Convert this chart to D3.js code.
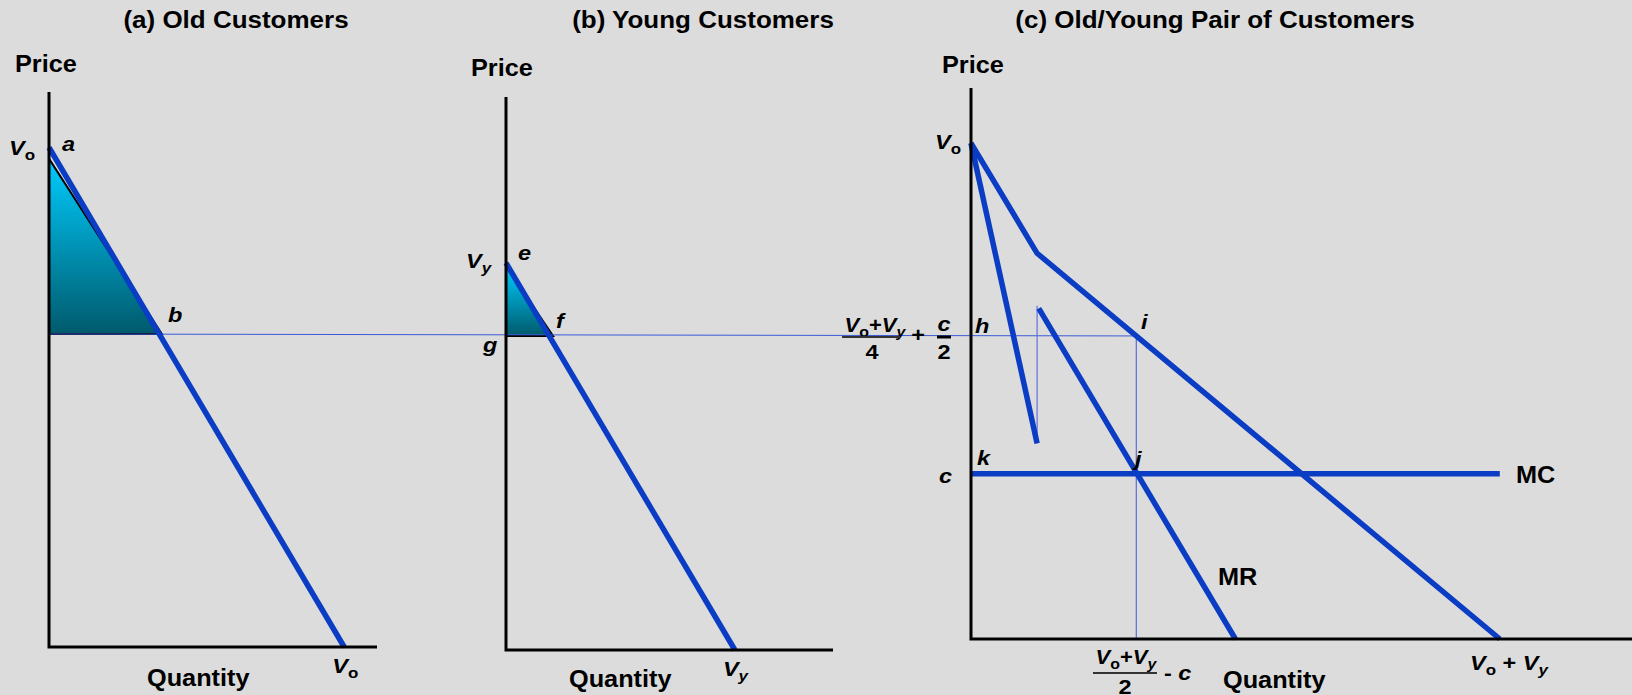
<!DOCTYPE html>
<html>
<head>
<meta charset="utf-8">
<script src="https://cdn.jsdelivr.net/npm/d3@7"></script>
<style>
  body { margin: 0; background: #dcdcdc; }
  text { font-family: "Liberation Sans", Arial, sans-serif; font-weight: bold; fill: #000; }
</style>
</head>
<body>
<div id="chart"></div>
<script>
// ---- data (quantity, price) in each panel's own units ----
const panelTitles = ["(a) Old Customers", "(b) Young Customers", "(c) Old/Young Pair of Customers"];

const oldDemand = [[0, 90], [90, 0]];
const oldSurplus = [[0, 88], [0, 56.4], [34.4, 56.4]];

const youngDemand = [[0, 70], [70, 0]];
const youngSurplus = [[0, 69.4], [0, 56.8], [14.4, 56.8]];

const pairDemand = [[0, 90], [20, 70], [160, 0]];
const mrOld = [[0, 90], [20, 35.5]];
const mrJump = [[20, 35.5], [20, 60.5]];
const mrPair = [[20.5, 60], [80, 0]];
const marginalCost = [[0, 30], [160, 30]];
const optimum = [50, 55];          // point i / j quantity and price
const priceA = [0, 56.4];          // start of the price line in panel (a)

// ---- layout ----
const W = 1632, H = 695;
const blue = "#0a3cc4";
const thin = "#3a5ad8";

const svg = d3.select("#chart").append("svg")
    .attr("width", W).attr("height", H);

svg.append("rect").attr("width", W).attr("height", H).attr("fill", "#dcdcdc");

const defs = svg.append("defs");
const grad = defs.append("linearGradient")
    .attr("id", "surplus").attr("x1", 0).attr("y1", 0).attr("x2", 0).attr("y2", 1);
grad.append("stop").attr("offset", "0%").attr("stop-color", "#00ccff");
grad.append("stop").attr("offset", "100%").attr("stop-color", "#005a6c");

// scales for each panel
const xa = d3.scaleLinear().domain([0, 100]).range([49, 377]);
const ya = d3.scaleLinear().domain([0, 100]).range([647, 92]);
const xb = d3.scaleLinear().domain([0, 100]).range([506, 833]);
const yb = d3.scaleLinear().domain([0, 100]).range([650, 97]);
const xc = d3.scaleLinear().domain([0, 200]).range([971, 1632]);
const yc = d3.scaleLinear().domain([0, 100]).range([639, 88]);

const lineFor = (x, y) => d3.line().x(d => x(d[0])).y(d => y(d[1]));
const la = lineFor(xa, ya), lb = lineFor(xb, yb), lc = lineFor(xc, yc);

// text helper: parts = [[text, kind]] kinds: "" plain, "i" italic, "sub" subscript, "subi" italic subscript
function label(x, y, parts, opts = {}) {
    const size = opts.size || 21;
    const sx = opts.sx || 1.12;
    const g = svg.append("g").attr("transform", `translate(${x},${y}) scale(${sx},1)`);
    const t = g.append("text")
        .attr("font-size", size)
        .attr("text-anchor", opts.anchor || "start");
    let shifted = false;
    parts.forEach(([txt, kind]) => {
        const isSub = kind === "sub" || kind === "subi";
        const ts = t.append("tspan").text(txt);
        if (isSub) {
            ts.attr("font-size", size * 0.72);
            if (!shifted) ts.attr("dy", 5);
            shifted = true;
        } else if (shifted) {
            ts.attr("dy", -5);
            shifted = false;
        }
        if (kind === "i" || kind === "subi") ts.attr("font-style", "italic");
    });
    return t;
}
const Vo = [["V", "i"], ["o", "sub"]];
const Vy = [["V", "i"], ["y", "subi"]];

// ---- surplus triangles ----
svg.append("path").datum(oldSurplus)
    .attr("d", d => la(d) + "Z")
    .attr("fill", "url(#surplus)").attr("stroke", "#000").attr("stroke-width", 2);
svg.append("path").datum(youngSurplus)
    .attr("d", d => lb(d) + "Z")
    .attr("fill", "url(#surplus)").attr("stroke", "#000").attr("stroke-width", 2);

// ---- thin guide lines ----
const priceLine = [[xa(priceA[0]), ya(priceA[1])], [xc(optimum[0]), yc(optimum[1])]];
svg.append("path").datum(priceLine)
    .attr("d", d3.line()).attr("stroke", thin).attr("stroke-width", 1).attr("fill", "none");
svg.append("path").datum([optimum, [optimum[0], 0]])
    .attr("d", lc).attr("stroke", thin).attr("stroke-width", 1).attr("fill", "none");
svg.append("path").datum(mrJump)
    .attr("d", lc).attr("stroke", "#6070e0").attr("stroke-width", 1.2).attr("fill", "none");

// ---- thick blue curves ----
const thick = [[oldDemand, la], [youngDemand, lb], [pairDemand, lc], [mrOld, lc], [mrPair, lc], [marginalCost, lc]];
thick.forEach(([d, gen]) => {
    svg.append("path").datum(d)
        .attr("d", gen)
        .attr("fill", "none")
        .attr("stroke", blue)
        .attr("stroke-width", 5.5)
        .attr("stroke-linejoin", "miter");
});

// ---- axes ----
[[xa, ya], [xb, yb], [xc, yc]].forEach(([x, y]) => {
    svg.append("path")
        .datum([[x.domain()[0], y.domain()[1]], [x.domain()[0], 0], [x.domain()[1], 0]])
        .attr("d", lineFor(x, y))
        .attr("fill", "none").attr("stroke", "#000").attr("stroke-width", 3);
});

// ---- titles & axis names ----
[236, 703, 1215].forEach((cx, i) => label(cx, 28, [[panelTitles[i], ""]], { size: 23, anchor: "middle", sx: 1.13 }));
[[15, 72], [471, 76], [942, 73]].forEach(([x, y]) => label(x, y, [["Price", ""]], { size: 23, sx: 1.1 }));
[[147, 686], [569, 687], [1223, 688]].forEach(([x, y]) => label(x, y, [["Quantity", ""]], { size: 23, sx: 1.1 }));

// ---- panel (a) ----
label(9, 155, Vo);
label(62, 151, [["a", "i"]]);
label(168, 322, [["b", "i"]]);
label(xa(oldDemand[1][0]) - 12, 673, Vo);

// ---- panel (b) ----
label(466, 268, Vy);
label(518, 260, [["e", "i"]]);
label(556, 328, [["f", "i"]]);
label(483, 352, [["g", "i"]]);
label(xb(youngDemand[1][0]) - 12, 676, Vy);

// ---- panel (c) ----
label(935, 149, Vo);
label(975, 333, [["h", "i"]]);
label(1141, 329, [["i", "i"]]);
label(977, 465, [["k", "i"]]);
label(1135, 466, [["j", "i"]]);
label(939, 483, [["c", "i"]]);
label(1516, 483, [["MC", ""]], { size: 23, sx: 1.1 });
label(1218, 585, [["MR", ""]], { size: 23, sx: 1.1 });
label(1470, 670, [["V", "i"], ["o", "sub"], [" + ", ""], ["V", "i"], ["y", "subi"]]);

// price fraction  (Vo+Vy)/4 + c/2
label(875, 332, [["V", "i"], ["o", "sub"], ["+", ""], ["V", "i"], ["y", "subi"]], { anchor: "middle", sx: 1.05 });
svg.append("line").attr("x1", 842).attr("x2", 900).attr("y1", 337).attr("y2", 337)
    .attr("stroke", "#333").attr("stroke-width", 2);
label(872, 359, [["4", ""]], { anchor: "middle" });
label(918, 342, [["+", ""]], { anchor: "middle" });
label(944, 331, [["c", "i"]], { anchor: "middle" });
svg.append("line").attr("x1", 937).attr("x2", 951).attr("y1", 337).attr("y2", 337)
    .attr("stroke", "#000").attr("stroke-width", 3);
label(944, 359, [["2", ""]], { anchor: "middle" });

// quantity fraction  (Vo+Vy)/2 - c
label(1126, 664, [["V", "i"], ["o", "sub"], ["+", ""], ["V", "i"], ["y", "subi"]], { anchor: "middle", sx: 1.05 });
svg.append("line").attr("x1", 1093).attr("x2", 1157).attr("y1", 673).attr("y2", 673)
    .attr("stroke", "#333").attr("stroke-width", 2);
label(1125, 694, [["2", ""]], { anchor: "middle" });
label(1164, 680, [["- ", ""], ["c", "i"]]);
</script>
</body>
</html>
